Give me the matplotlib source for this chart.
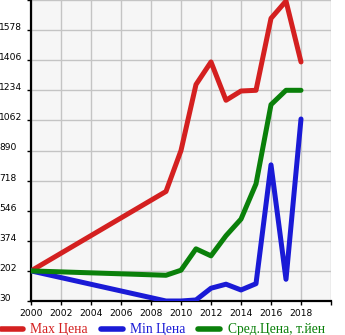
import matplotlib
matplotlib.use("Agg")
import matplotlib.pyplot as plt

years = [2000, 2009, 2010, 2011, 2012, 2013, 2014, 2015, 2016, 2017, 2018]
max_price = [202, 656, 890, 1267, 1396, 1177, 1230, 1234, 1645, 1744, 1396]
min_price = [202, 30, 30, 36, 103, 126, 93, 129, 808, 154, 1070]
avg_price = [202, 177, 206, 328, 288, 403, 498, 699, 1152, 1234, 1234]

yticks = [30, 202, 374, 546, 718, 890, 1062, 1234, 1406, 1578]
xticks = list(range(2000, 2020, 2))
labels = ["Max Цена", "Min Цена", "Сред.Цена, т.йен"]
colors = ["#d42020", "#1a1ad6", "#0a800a"]

fig = plt.figure(figsize=(3.45, 3.35), dpi=100)
ax = fig.add_axes([31 / 345, 34 / 335, 300 / 345, 301 / 335])
ax.set_facecolor("#f6f6f6")

for vals, lab, col in zip([max_price, min_price, avg_price], labels, colors):
    ax.plot(years, vals, color=col, lw=3.6, label=lab,
            solid_capstyle="round", solid_joinstyle="round", zorder=3)

ax.set_xlim(2000, 2020)
ax.set_ylim(30, 1750)
ax.set_xticks(xticks + [2020])
ax.set_xticklabels([str(x) for x in xticks] + [""])
ax.set_yticks(yticks + [1750])
ax.set_yticklabels([str(y) for y in yticks] + [""])
ax.grid(True, color="#c4c4c4", lw=1)
ax.set_axisbelow(True)

for s in ["top", "right"]:
    ax.spines[s].set_visible(False)
for s in ["left", "bottom"]:
    ax.spines[s].set_linewidth(1.6)
    ax.spines[s].set_color("black")

ax.tick_params(axis="both", length=3, width=1, color="black",
               labelsize=6.6, labelcolor="black")
ax.tick_params(axis="y", pad=20)
ax.tick_params(axis="x", pad=3)
for lab in ax.get_yticklabels():
    lab.set_horizontalalignment("left")
    lab.set_verticalalignment("baseline")
    lab.set_fontfamily("DejaVu Sans")

leg = fig.legend(loc="lower left", bbox_to_anchor=(-0.005, -0.012), ncol=3,
                 frameon=False, prop={"family": "Liberation Serif", "size": 9.8},
                 handlelength=1.6, handletextpad=0.55, columnspacing=0.95,
                 borderaxespad=0, borderpad=0.2, labelcolor="linecolor")
for h in leg.get_lines():
    h.set_linewidth(4)

fig.savefig("out.png", dpi=100)
